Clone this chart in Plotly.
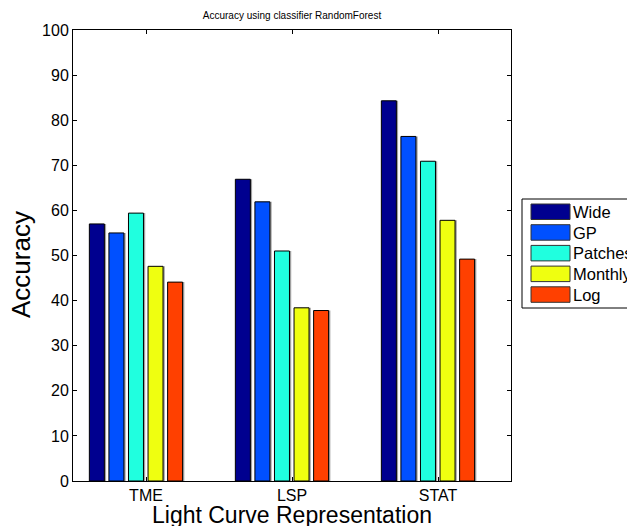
import plotly.graph_objects as go

categories = ["TME", "LSP", "STAT"]
series_names = ["Wide", "GP", "Patches", "Monthly", "Log"]
wide = [57.0, 66.9, 84.3]
gp = [55.0, 61.9, 76.4]
patches = [59.4, 51.0, 70.9]
monthly = [47.6, 38.4, 57.8]
log_vals = [44.1, 37.8, 49.2]
series_values = [wide, gp, patches, monthly, log_vals]
colors = ["#00008F", "#0050FF", "#20FFDF", "#EFFF10", "#FF4000"]
title_text = "Accuracy using classifier RandomForest"
x_title = "Light Curve Representation"
y_title = "Accuracy"

FONT = "Liberation Sans, Arial, Helvetica, sans-serif"
OFF = 8  # default page body margin
W, H = 635 - OFF, 526 - OFF
# plot area in page px
L, R, T, B = 73, 511, 30, 481

xpos = list(range(1, len(categories) + 1))
bar_w = 0.1027
slot = 0.134
start = -0.388

fig = go.Figure()
for i, (name, vals) in enumerate(zip(series_names, series_values)):
    fig.add_trace(go.Bar(x=xpos, y=vals, width=bar_w, offset=start + i * slot + 0.012,
                         marker=dict(color="#a0a0a0", line=dict(width=0)),
                         showlegend=False, hoverinfo="skip"))
for i, (name, vals) in enumerate(zip(series_names, series_values)):
    fig.add_trace(go.Bar(x=xpos, y=vals, name=name, width=bar_w, offset=start + i * slot,
                         marker=dict(color=colors[i], line=dict(color="black", width=1)),
                         showlegend=False))

def px_x(p):
    return (p - L) / (R - L)

def px_y(p):
    return (B - p) / (B - T)

shapes = []
annotations = []
shapes.append(dict(type="rect", xref="paper", yref="paper",
                   x0=px_x(522), x1=px_x(660), y0=px_y(308), y1=px_y(199),
                   line=dict(color="black", width=1), fillcolor="white", layer="above"))
for i, name in enumerate(series_names):
    top = 204 + i * 20.7
    shapes.append(dict(type="rect", xref="paper", yref="paper",
                       x0=px_x(531), x1=px_x(570), y0=px_y(top + 15.5), y1=px_y(top),
                       line=dict(color="#333333", width=1), fillcolor=colors[i], layer="above"))
    annotations.append(dict(text=name, xref="paper", yref="paper",
                            x=px_x(571), y=px_y(top + 8), xanchor="left", yanchor="middle",
                            showarrow=False, font=dict(family=FONT, size=16.5, color="black")))

annotations.append(dict(text=x_title, xref="paper", yref="paper", x=0.5, y=px_y(515),
                        xanchor="center", yanchor="middle", showarrow=False,
                        font=dict(family=FONT, size=23, color="black")))
annotations.append(dict(text=y_title, xref="paper", yref="paper", x=px_x(21), y=px_y(265),
                        xanchor="center", yanchor="middle", textangle=-90, showarrow=False,
                        font=dict(family=FONT, size=26, color="black")))

fig.update_layout(
    width=W, height=H,
    margin=dict(l=L - OFF, r=(W + OFF) - R, t=T - OFF, b=(H + OFF) - B, pad=0),
    paper_bgcolor="white", plot_bgcolor="white",
    barmode="overlay",
    font=dict(family=FONT, size=16, color="black"),
    title=dict(text=title_text, x=(0.5 * (L + R) - OFF) / W, xanchor="center",
               y=1 - (15 - OFF) / H, yanchor="middle", yref="container",
               font=dict(family=FONT, size=10, color="black")),
    shapes=shapes, annotations=annotations,
)
fig.update_xaxes(range=[0.5, 3.5], tickvals=xpos, ticktext=categories,
                 ticks="inside", ticklen=4, tickcolor="black", showline=True, linecolor="black",
                 linewidth=1, mirror="ticks", showgrid=False, zeroline=False,
                 tickfont=dict(family=FONT, size=16))
fig.update_yaxes(range=[0, 100], dtick=10, tick0=0,
                 ticks="inside", ticklen=4, tickcolor="black", showline=True, linecolor="black",
                 linewidth=1, mirror="ticks", showgrid=False, zeroline=False,
                 tickfont=dict(family=FONT, size=16))

fig.write_html("out.html")
